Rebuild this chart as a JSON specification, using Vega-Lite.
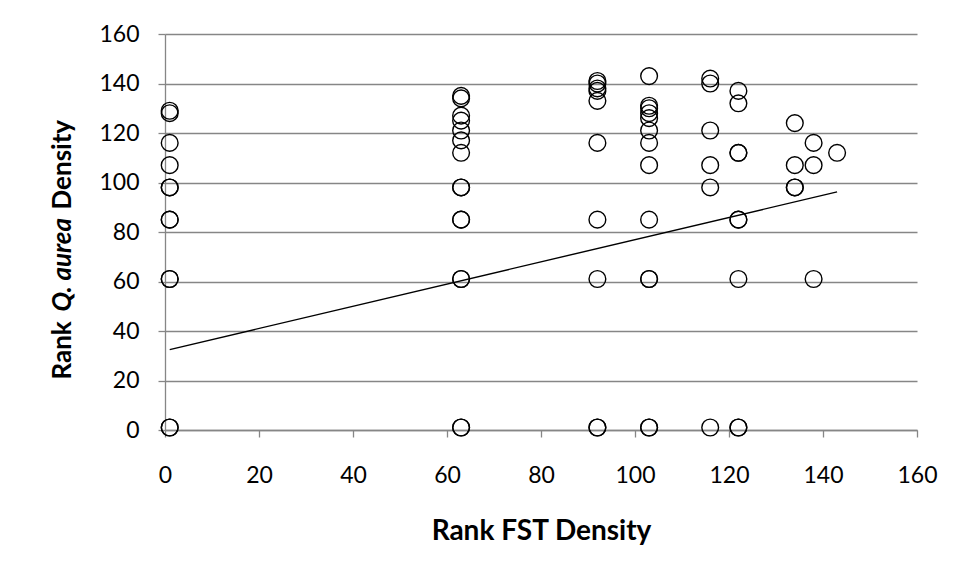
{
  "$schema": "https://vega.github.io/schema/vega-lite/v6.json",
  "autosize": {"type": "none"},
  "padding": {"left": 165, "top": 34, "right": 40, "bottom": 148},
  "width": 752,
  "height": 396,
  "background": "white",
  "data": {
    "values": [
      {"fst": 1, "aurea": 129}, {"fst": 1, "aurea": 128}, {"fst": 1, "aurea": 116}, {"fst": 1, "aurea": 107},
      {"fst": 1, "aurea": 98}, {"fst": 1, "aurea": 98}, {"fst": 1, "aurea": 85}, {"fst": 1, "aurea": 85},
      {"fst": 1, "aurea": 61}, {"fst": 1, "aurea": 61}, {"fst": 1, "aurea": 1}, {"fst": 1, "aurea": 1},
      {"fst": 63, "aurea": 135}, {"fst": 63, "aurea": 134}, {"fst": 63, "aurea": 127}, {"fst": 63, "aurea": 125},
      {"fst": 63, "aurea": 121}, {"fst": 63, "aurea": 117}, {"fst": 63, "aurea": 112}, {"fst": 63, "aurea": 98},
      {"fst": 63, "aurea": 98}, {"fst": 63, "aurea": 85}, {"fst": 63, "aurea": 85}, {"fst": 63, "aurea": 61},
      {"fst": 63, "aurea": 61}, {"fst": 63, "aurea": 1}, {"fst": 63, "aurea": 1},
      {"fst": 92, "aurea": 141}, {"fst": 92, "aurea": 140}, {"fst": 92, "aurea": 138}, {"fst": 92, "aurea": 137},
      {"fst": 92, "aurea": 133}, {"fst": 92, "aurea": 116}, {"fst": 92, "aurea": 85}, {"fst": 92, "aurea": 61},
      {"fst": 92, "aurea": 1}, {"fst": 92, "aurea": 1},
      {"fst": 103, "aurea": 143}, {"fst": 103, "aurea": 131}, {"fst": 103, "aurea": 130}, {"fst": 103, "aurea": 128},
      {"fst": 103, "aurea": 126}, {"fst": 103, "aurea": 121}, {"fst": 103, "aurea": 116}, {"fst": 103, "aurea": 107},
      {"fst": 103, "aurea": 85}, {"fst": 103, "aurea": 61}, {"fst": 103, "aurea": 61}, {"fst": 103, "aurea": 1},
      {"fst": 103, "aurea": 1},
      {"fst": 116, "aurea": 142}, {"fst": 116, "aurea": 140}, {"fst": 116, "aurea": 121}, {"fst": 116, "aurea": 107},
      {"fst": 116, "aurea": 98}, {"fst": 116, "aurea": 1},
      {"fst": 122, "aurea": 137}, {"fst": 122, "aurea": 132}, {"fst": 122, "aurea": 112}, {"fst": 122, "aurea": 112},
      {"fst": 122, "aurea": 85}, {"fst": 122, "aurea": 85}, {"fst": 122, "aurea": 61}, {"fst": 122, "aurea": 1},
      {"fst": 122, "aurea": 1},
      {"fst": 134, "aurea": 124}, {"fst": 134, "aurea": 107}, {"fst": 134, "aurea": 98}, {"fst": 134, "aurea": 98},
      {"fst": 138, "aurea": 116}, {"fst": 138, "aurea": 107}, {"fst": 138, "aurea": 61},
      {"fst": 143, "aurea": 112}
    ]
  },
  "encoding": {
    "x": {
      "field": "fst", "type": "quantitative",
      "scale": {"domain": [0, 160], "nice": false},
      "axis": {
        "values": [0, 20, 40, 60, 80, 100, 120, 140, 160],
        "grid": false,
        "title": "Rank FST Density",
        "titlePadding": 30
      }
    }
  },
  "layer": [
    {
      "mark": {"type": "point", "shape": "circle", "filled": false, "size": 280, "stroke": "black", "strokeWidth": 1.4, "opacity": 1},
      "encoding": {
        "y": {
          "field": "aurea", "type": "quantitative",
          "scale": {"domain": [0, 160], "nice": false},
          "axis": {
            "values": [0, 20, 40, 60, 80, 100, 120, 140, 160],
            "grid": true,
            "title": null
          }
        }
      }
    },
    {
      "data": {"values": [{"fst": 1, "aurea": 32.5}, {"fst": 143, "aurea": 96.2}]},
      "mark": {"type": "line", "color": "black", "strokeWidth": 1.4},
      "encoding": {
        "y": {
          "field": "aurea", "type": "quantitative",
          "axis": {
            "orient": "left", "title": "Rank", "labels": false, "ticks": false, "domain": false, "grid": false,
            "titleFontSize": 26, "titleX": -95, "titleY": 345, "titleAngle": -90, "titleAlign": "left", "titleBaseline": "alphabetic"
          }
        }
      }
    },
    {
      "mark": {"type": "point", "opacity": 0},
      "encoding": {
        "y": {
          "field": "aurea", "type": "quantitative",
          "axis": {
            "orient": "left", "title": "Q. aurea", "titleFontStyle": "italic", "labels": false, "ticks": false, "domain": false, "grid": false,
            "titleFontSize": 26, "titleX": -95, "titleY": 277, "titleAngle": -90, "titleAlign": "left", "titleBaseline": "alphabetic"
          }
        }
      }
    },
    {
      "mark": {"type": "point", "opacity": 0},
      "encoding": {
        "y": {
          "field": "aurea", "type": "quantitative",
          "axis": {
            "orient": "left", "title": "Density", "labels": false, "ticks": false, "domain": false, "grid": false,
            "titleFontSize": 26, "titleX": -95, "titleY": 175, "titleAngle": -90, "titleAlign": "left", "titleBaseline": "alphabetic"
          }
        }
      }
    }
  ],
  "resolve": {"axis": {"y": "independent"}},
  "config": {
    "view": {"stroke": null},
    "axis": {
      "labelFont": "Lato",
      "labelFontSize": 23,
      "labelColor": "black",
      "labelFlush": false,
      "labelOverlap": false,
      "titleFont": "Lato",
      "titleFontSize": 28,
      "titleFontWeight": "bold",
      "titleColor": "black",
      "domainColor": "#868686",
      "domainWidth": 1.3,
      "tickColor": "#868686",
      "tickWidth": 1.3,
      "tickSize": 7,
      "gridColor": "#868686",
      "gridWidth": 1.3
    },
    "axisX": {"labelPadding": 27},
    "axisY": {"labelPadding": 19}
  }
}
